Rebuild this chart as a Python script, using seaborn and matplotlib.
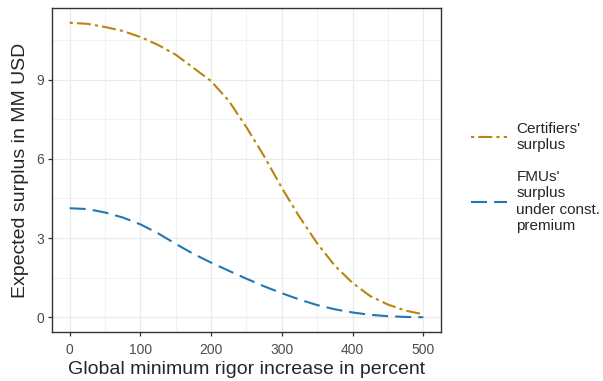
import numpy as np
import pandas as pd
import matplotlib
matplotlib.use('Agg')
import matplotlib.pyplot as plt
from matplotlib.lines import Line2D
from matplotlib.ticker import MultipleLocator
import seaborn as sns

rigor_increase = [0, 25, 50, 75, 100, 125, 150, 175, 200, 225, 250, 275, 300,
                  325, 350, 375, 400, 425, 450, 475, 500]
certifiers_surplus = [11.16, 11.12, 11.0, 10.85, 10.62, 10.32, 9.95, 9.45, 8.95, 8.2,
                      7.2, 6.1, 4.9, 3.8, 2.8, 1.95, 1.3, 0.8, 0.48, 0.25, 0.11]
fmus_surplus = [4.13, 4.10, 3.97, 3.78, 3.52, 3.18, 2.78, 2.40, 2.07, 1.76, 1.46,
                1.17, 0.91, 0.67, 0.46, 0.30, 0.18, 0.09, 0.04, 0.01, 0.0]
series_labels = ["Certifiers'\nsurplus", "FMUs'\nsurplus\nunder const.\npremium"]

df = pd.DataFrame({
    'x': rigor_increase * 2,
    'y': certifiers_surplus + fmus_surplus,
    'series': [series_labels[0]] * len(rigor_increase) + [series_labels[1]] * len(rigor_increase),
})

sns.set_style('white')
plt.rcParams['font.family'] = ['Liberation Sans', 'DejaVu Sans']

colors = {series_labels[0]: '#B8860B', series_labels[1]: '#1F78B4'}
dash_map = {series_labels[0]: (1.5, 2.0, 6.7, 2.0), series_labels[1]: (7.7, 3.4)}

fig = plt.figure(figsize=(6.03, 3.81), dpi=100)
ax = fig.add_axes([0.0862, 0.1286, 0.7313 - 0.0862, 0.979 - 0.1286])

sns.lineplot(data=df, x='x', y='y', hue='series', style='series',
             palette=colors, dashes=dash_map, linewidth=1.5, ax=ax, legend=False)

ax.set_xlim(-25, 525)
ax.set_ylim(-0.56, 11.72)
ax.xaxis.set_major_locator(MultipleLocator(100))
ax.xaxis.set_minor_locator(MultipleLocator(50))
ax.yaxis.set_major_locator(MultipleLocator(3))
ax.yaxis.set_minor_locator(MultipleLocator(1.5))
ax.grid(which='major', color='#EBEBEB', linewidth=0.9)
ax.grid(which='minor', color='#EBEBEB', linewidth=0.45)
ax.set_axisbelow(True)
for s in ax.spines.values():
    s.set_color('#333333')
    s.set_linewidth(1.0)
ax.tick_params(which='major', length=3.2, width=0.9, color='#333333',
               labelsize=10, labelcolor='#4D4D4D', pad=2.5, left=True, bottom=True)
ax.tick_params(axis='x', which='major', pad=4.5)
ax.tick_params(which='minor', length=0)
ax.set_xlabel('Global minimum rigor increase in percent', fontsize=14, labelpad=3)
ax.set_ylabel('Expected surplus in MM USD', fontsize=14, labelpad=5)

handles = [Line2D([], [], color=colors[l], linewidth=1.5, dashes=dash_map[l]) for l in series_labels]
fig.legend(handles, series_labels, loc='center left', bbox_to_anchor=(0.759, 0.535),
           frameon=False, fontsize=11, handlelength=2.36, handletextpad=0.59,
           labelspacing=1.2)

fig.savefig('out.png', dpi=100)
